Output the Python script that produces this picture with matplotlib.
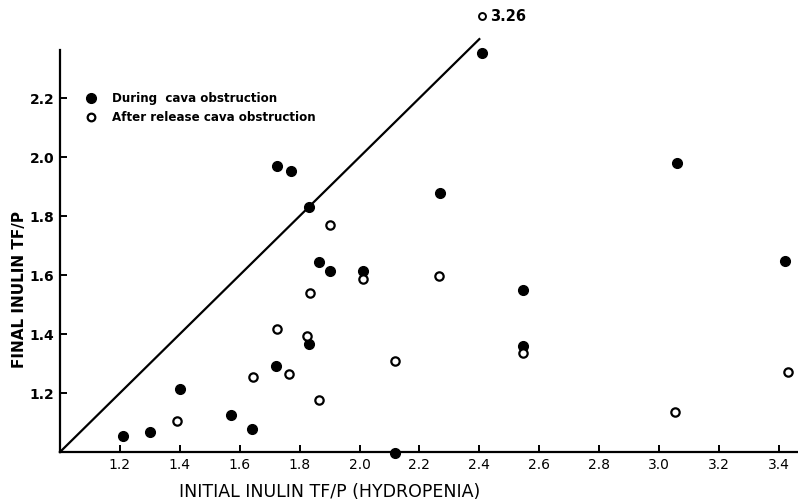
import numpy as np
import matplotlib
matplotlib.use("Agg")
import matplotlib.pyplot as plt

# during cava obstruction (filled)
during_x = [1.21, 1.30, 1.40, 1.57, 1.64, 1.72, 1.725, 1.77, 1.83, 1.83, 1.865, 1.90,
            2.01, 2.12, 2.27, 2.41, 2.545, 2.545, 3.06, 3.42]
during_y = [1.055, 1.068, 1.213, 1.125, 1.078, 1.29, 1.97, 1.953, 1.83, 1.366, 1.645, 1.614,
            1.612, 0.995, 1.878, 2.353, 1.549, 1.359, 1.98, 1.647]

# after release (open)
after_x = [1.39, 1.645, 1.725, 1.765, 1.825, 1.835, 1.865, 1.90, 2.01, 2.12,
           2.265, 2.545, 3.055, 3.43]
after_y = [1.105, 1.255, 1.417, 1.264, 1.393, 1.538, 1.175, 1.77, 1.585, 1.31,
           1.597, 1.337, 1.135, 1.27]

# off-scale point, drawn at the top edge
off_x = 2.41
off_val = 3.26
off_plot_y = 2.478

xticks = [1.2, 1.4, 1.6, 1.8, 2.0, 2.2, 2.4, 2.6, 2.8, 3.0, 3.2, 3.4]
yticks = [1.2, 1.4, 1.6, 1.8, 2.0, 2.2]

fig = plt.figure(figsize=(7.98, 5.01), dpi=100)
ax = fig.add_axes([60/798, 49/501, 738/798, 402/501])
ax.set_xlim(1.0, 3.464)
ax.set_ylim(1.0, 2.363)

ax.spines['top'].set_visible(False)
ax.spines['right'].set_visible(False)
ax.spines['left'].set_linewidth(1.6)
ax.spines['bottom'].set_linewidth(1.6)

# line of identity
ax.plot([1.0, 2.40], [1.0, 2.40], color='black', lw=1.6, clip_on=False)

ax.plot(during_x, during_y, 'o', color='black', ms=7, clip_on=False)
ax.plot(after_x, after_y, 'o', mfc='white', mec='black', mew=1.6, ms=6, clip_on=False)
ax.plot([off_x], [off_plot_y], 'o', mfc='white', mec='black', mew=1.4, ms=5, clip_on=False)
ax.text(off_x + 0.025, off_plot_y, f"{off_val:.2f}", fontsize=10.5, fontweight='bold',
        va='center', ha='left')

ax.set_xticks(xticks)
ax.set_xticklabels([f"{t:.1f}" for t in xticks], fontsize=10)
ax.set_yticks(yticks)
ax.set_yticklabels([f"{t:.1f}" for t in yticks], fontsize=10, fontweight='bold')
ax.tick_params(direction='in', length=5, width=1.4, pad=4)

fig.text(330/798, 1 - 492/501, "INITIAL INULIN TF/P (HYDROPENIA)", fontsize=12.5,
         ha='center', va='center')
fig.text(20/798, 1 - 290/501, "FINAL INULIN TF/P", fontsize=11, fontweight='bold',
         rotation=90, ha='center', va='center')

# legend drawn by hand like the original
ax.plot([1.105], [2.2], 'o', color='black', ms=7, clip_on=False)
ax.plot([1.105], [2.135], 'o', mfc='white', mec='black', mew=1.6, ms=5.5, clip_on=False)
ax.text(1.175, 2.2, "During  cava obstruction", fontsize=8.6, fontweight='bold', va='center')
ax.text(1.175, 2.135, "After release cava obstruction", fontsize=8.6, fontweight='bold', va='center')

fig.savefig("out.png", dpi=100)
